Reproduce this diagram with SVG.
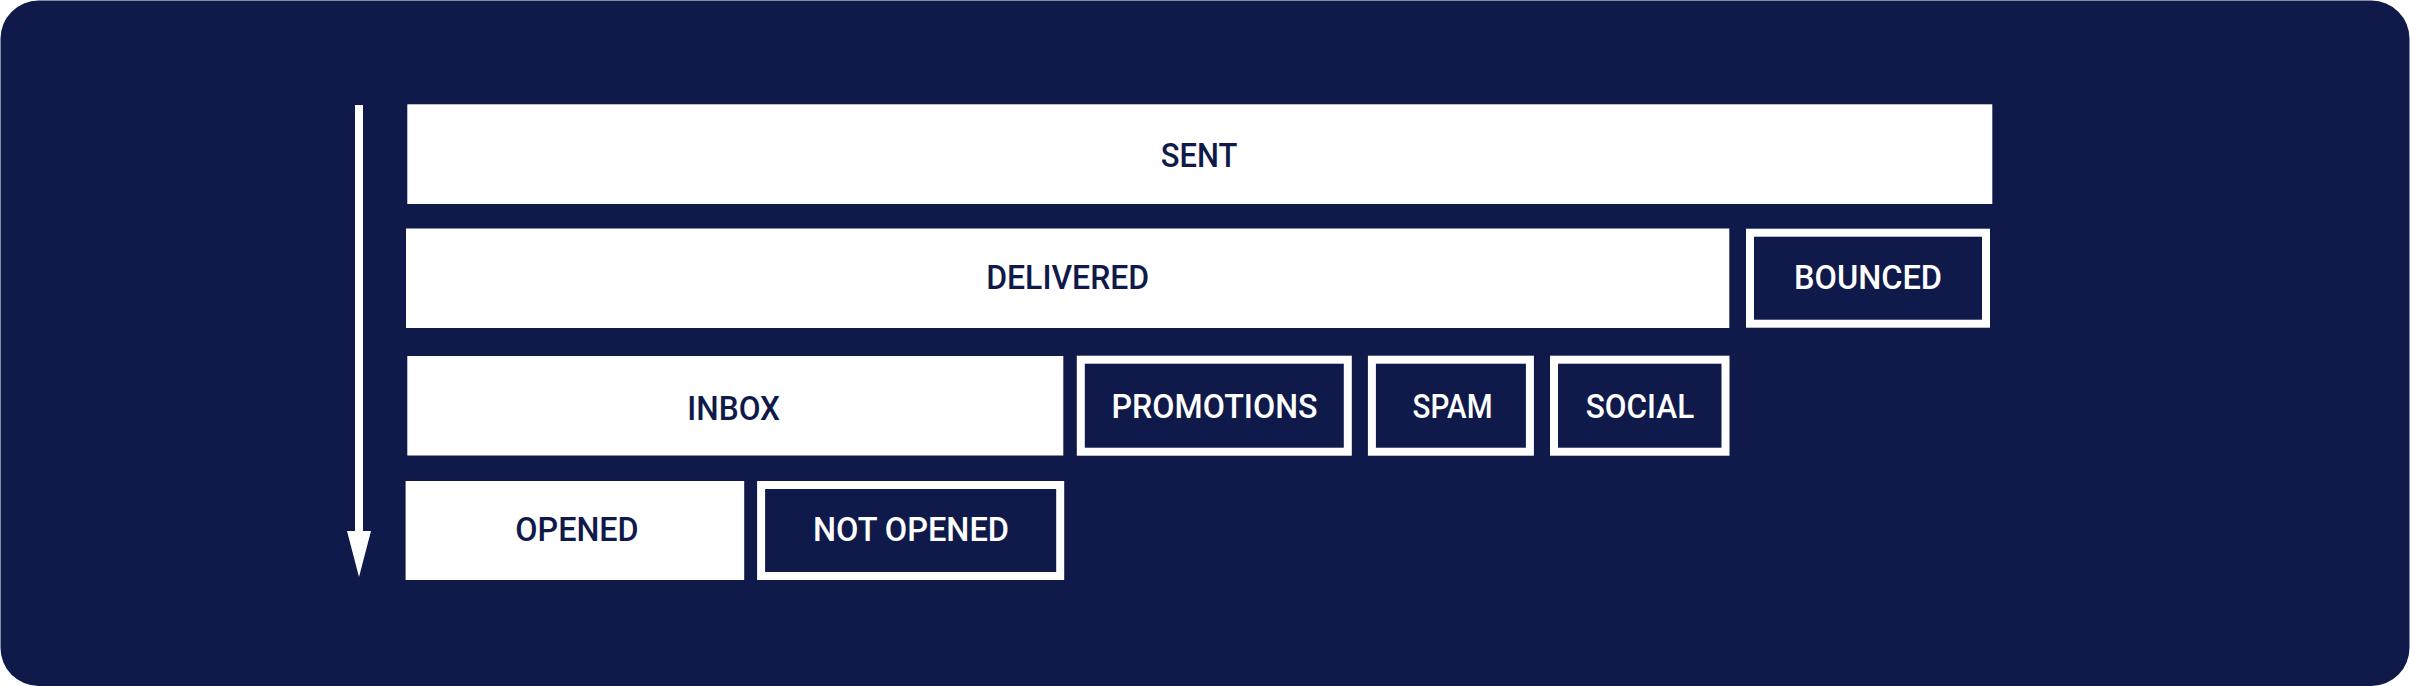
<svg xmlns="http://www.w3.org/2000/svg" width="2410" height="686" viewBox="0 0 2410 686">
  <style>
    .bg { fill: #0F1A4A; }
    .solid { fill: #FFFFFF; }
    .outline { fill: #0F1A4A; stroke: #FFFFFF; stroke-width: 8; }
    .lbl { font-family: Roboto, "Liberation Sans", sans-serif; font-size: 34px; font-weight: 500; text-anchor: middle; }
    .dark { fill: #0F1A4A; }
    .light { fill: #FFFFFF; }
  </style>
  <rect class="bg" x="0.5" y="0.5" width="2409" height="685.5" rx="38" ry="38"/>

  <g id="connectors">
    <rect x="355" y="105" width="8" height="428" fill="#FFFFFF"/>
    <polygon points="347,531 371,531 359,577" fill="#FFFFFF"/>
  </g>

  <g id="sent">
    <rect class="solid" x="407.3" y="104.3" width="1585" height="99.7"/>
    <text class="lbl dark" x="1199" y="166.7" textLength="76.6" lengthAdjust="spacingAndGlyphs">SENT</text>
  </g>

  <g id="delivered">
    <rect class="solid" x="406" y="228.5" width="1323.3" height="99.5"/>
    <text class="lbl dark" x="1067.7" y="289.3" textLength="163" lengthAdjust="spacingAndGlyphs">DELIVERED</text>
  </g>

  <g id="bounced">
    <rect class="outline" x="1750" y="232.7" width="236" height="91"/>
    <text class="lbl light" x="1868" y="289.3" textLength="148" lengthAdjust="spacingAndGlyphs">BOUNCED</text>
  </g>

  <g id="inbox">
    <rect class="solid" x="407.3" y="356" width="656" height="99.5"/>
    <text class="lbl dark" x="733.7" y="420" textLength="92.7" lengthAdjust="spacingAndGlyphs">INBOX</text>
  </g>

  <g id="promotions">
    <rect class="outline" x="1080.8" y="359.7" width="267" height="92"/>
    <text class="lbl light" x="1214.5" y="418" textLength="206" lengthAdjust="spacingAndGlyphs">PROMOTIONS</text>
  </g>

  <g id="spam">
    <rect class="outline" x="1371.9" y="359.7" width="158" height="92"/>
    <text class="lbl light" x="1452.5" y="418" textLength="80" lengthAdjust="spacingAndGlyphs">SPAM</text>
  </g>

  <g id="social">
    <rect class="outline" x="1554" y="359.7" width="171.5" height="92"/>
    <text class="lbl light" x="1640" y="418" textLength="108.5" lengthAdjust="spacingAndGlyphs">SOCIAL</text>
  </g>

  <g id="opened">
    <rect class="solid" x="405.6" y="481" width="338.6" height="99"/>
    <text class="lbl dark" x="577" y="541" textLength="123.4" lengthAdjust="spacingAndGlyphs">OPENED</text>
  </g>

  <g id="not-opened">
    <rect class="outline" x="761.1" y="485" width="299.1" height="91"/>
    <text class="lbl light" x="911" y="541" textLength="196" lengthAdjust="spacingAndGlyphs">NOT OPENED</text>
  </g>
</svg>
